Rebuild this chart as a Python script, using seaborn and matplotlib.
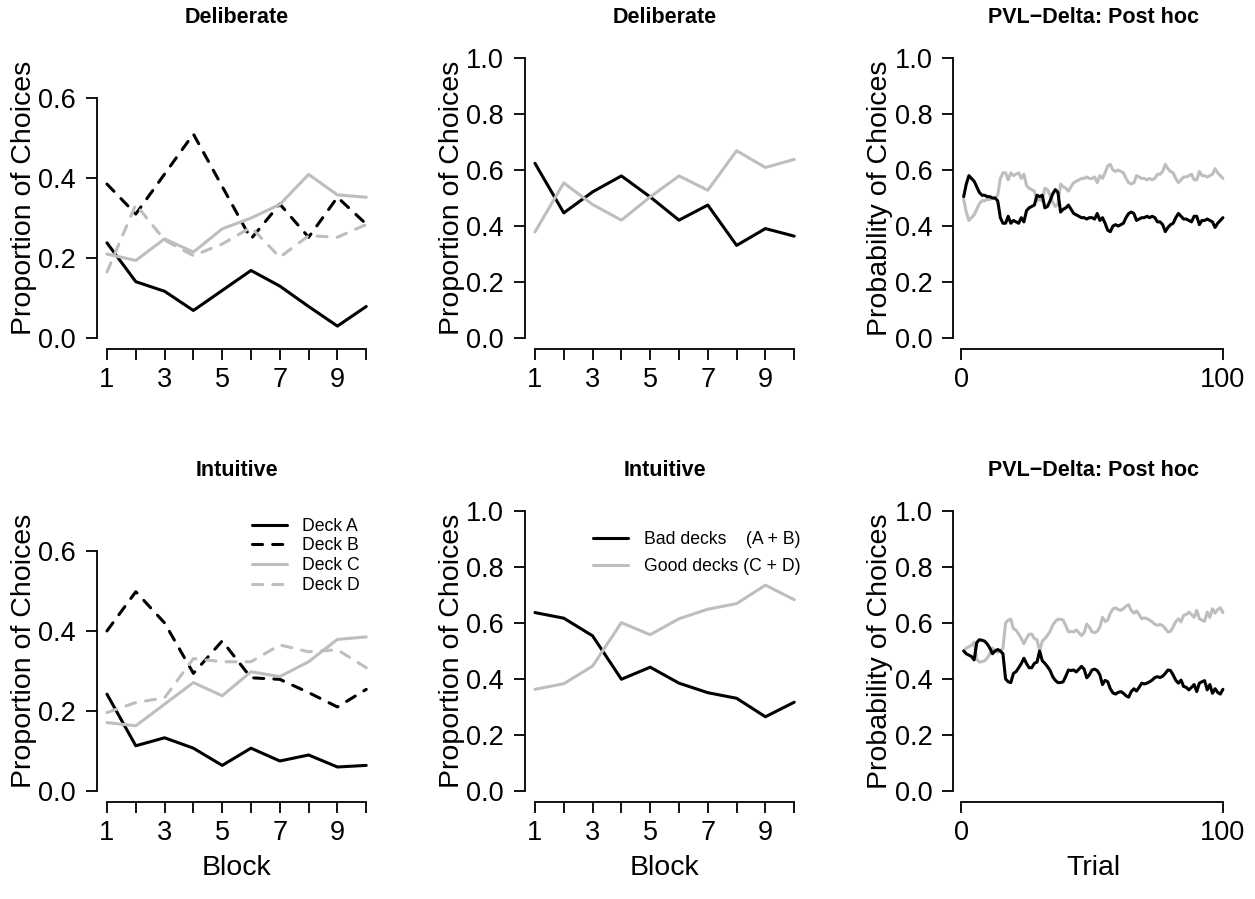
import numpy as np
import pandas as pd
import matplotlib
matplotlib.use('Agg')
import matplotlib.pyplot as plt
import seaborn as sns

# ---------------- datos ----------------
blocks = list(range(1, 11))
trials = list(range(1, 101))

# Deliberate, por mazo
deck_a_delib = [0.238, 0.141, 0.117, 0.069, 0.119, 0.169, 0.130, 0.079, 0.030, 0.079]
deck_b_delib = [0.385, 0.310, 0.410, 0.510, 0.379, 0.248, 0.335, 0.252, 0.352, 0.285]
deck_c_delib = [0.210, 0.194, 0.248, 0.215, 0.273, 0.300, 0.334, 0.409, 0.358, 0.352]
deck_d_delib = [0.165, 0.334, 0.245, 0.206, 0.235, 0.277, 0.202, 0.256, 0.252, 0.284]

# Intuitive, por mazo
deck_a_int = [0.242, 0.113, 0.133, 0.107, 0.064, 0.107, 0.075, 0.090, 0.060, 0.064]
deck_b_int = [0.400, 0.498, 0.420, 0.294, 0.375, 0.283, 0.279, 0.246, 0.210, 0.254]
deck_c_int = [0.171, 0.163, 0.217, 0.271, 0.238, 0.298, 0.286, 0.323, 0.379, 0.385]
deck_d_int = [0.196, 0.221, 0.233, 0.331, 0.323, 0.323, 0.365, 0.348, 0.353, 0.308]

# mazos malos / buenos
bad_delib  = [0.624, 0.447, 0.522, 0.579, 0.504, 0.421, 0.475, 0.331, 0.391, 0.364]
good_delib = [0.379, 0.554, 0.477, 0.421, 0.504, 0.579, 0.528, 0.669, 0.609, 0.638]
bad_int    = [0.637, 0.617, 0.554, 0.399, 0.442, 0.385, 0.351, 0.331, 0.265, 0.317]
good_int   = [0.363, 0.383, 0.446, 0.601, 0.558, 0.615, 0.649, 0.669, 0.735, 0.683]

# PVL-Delta post hoc (Deliberate)
pvl_bad_delib = [0.505, 0.55, 0.58, 0.57, 0.56, 0.54, 0.52, 0.51, 0.51, 0.505,
                 0.505, 0.50, 0.50, 0.49, 0.43, 0.41, 0.41, 0.435, 0.41, 0.42,
                 0.415, 0.41, 0.43, 0.415, 0.455, 0.465, 0.47, 0.475, 0.51, 0.505,
                 0.51, 0.465, 0.47, 0.49, 0.515, 0.53, 0.52, 0.45, 0.46, 0.465,
                 0.475, 0.46, 0.445, 0.44, 0.435, 0.43, 0.43, 0.425, 0.43, 0.43,
                 0.425, 0.445, 0.42, 0.43, 0.41, 0.385, 0.38, 0.40, 0.405, 0.40,
                 0.405, 0.41, 0.43, 0.445, 0.45, 0.445, 0.42, 0.425, 0.43, 0.43,
                 0.435, 0.43, 0.435, 0.43, 0.415, 0.415, 0.405, 0.38, 0.395, 0.405,
                 0.41, 0.43, 0.445, 0.435, 0.425, 0.425, 0.42, 0.415, 0.435, 0.435,
                 0.405, 0.42, 0.42, 0.425, 0.42, 0.415, 0.395, 0.41, 0.42, 0.43]
pvl_good_delib = [0.495, 0.45, 0.42, 0.43, 0.44, 0.46, 0.48, 0.49, 0.49, 0.495,
                  0.495, 0.50, 0.50, 0.51, 0.57, 0.59, 0.59, 0.565, 0.59, 0.58,
                  0.585, 0.59, 0.57, 0.585, 0.545, 0.535, 0.53, 0.525, 0.49, 0.495,
                  0.49, 0.535, 0.53, 0.51, 0.485, 0.47, 0.48, 0.55, 0.54, 0.535,
                  0.525, 0.54, 0.555, 0.56, 0.565, 0.57, 0.57, 0.575, 0.57, 0.57,
                  0.575, 0.555, 0.58, 0.57, 0.59, 0.615, 0.62, 0.60, 0.595, 0.60,
                  0.595, 0.59, 0.57, 0.555, 0.55, 0.555, 0.58, 0.575, 0.57, 0.57,
                  0.565, 0.57, 0.565, 0.57, 0.585, 0.585, 0.595, 0.62, 0.605, 0.595,
                  0.59, 0.57, 0.555, 0.565, 0.575, 0.575, 0.58, 0.585, 0.565, 0.565,
                  0.595, 0.58, 0.58, 0.575, 0.58, 0.585, 0.605, 0.59, 0.58, 0.57]

# PVL-Delta post hoc (Intuitive)
pvl_bad_int = [0.50, 0.49, 0.485, 0.48, 0.468, 0.53, 0.54, 0.538, 0.535, 0.525,
               0.51, 0.49, 0.50, 0.505, 0.50, 0.49, 0.40, 0.39, 0.387, 0.42,
               0.426, 0.44, 0.455, 0.474, 0.455, 0.44, 0.44, 0.456, 0.46, 0.50,
               0.465, 0.456, 0.444, 0.43, 0.408, 0.395, 0.387, 0.387, 0.39, 0.41,
               0.432, 0.43, 0.432, 0.425, 0.435, 0.445, 0.435, 0.404, 0.415, 0.432,
               0.435, 0.43, 0.415, 0.38, 0.395, 0.39, 0.365, 0.35, 0.346, 0.352,
               0.355, 0.349, 0.34, 0.335, 0.355, 0.365, 0.357, 0.37, 0.385, 0.382,
               0.385, 0.39, 0.396, 0.405, 0.408, 0.405, 0.41, 0.42, 0.432, 0.43,
               0.414, 0.395, 0.385, 0.396, 0.373, 0.37, 0.361, 0.37, 0.38, 0.355,
               0.385, 0.39, 0.394, 0.361, 0.38, 0.349, 0.365, 0.352, 0.346, 0.363]
pvl_good_int = [0.50, 0.51, 0.515, 0.52, 0.532, 0.47, 0.46, 0.462, 0.465, 0.475,
                0.49, 0.51, 0.50, 0.495, 0.50, 0.51, 0.60, 0.61, 0.613, 0.58,
                0.574, 0.56, 0.545, 0.526, 0.545, 0.56, 0.56, 0.544, 0.54, 0.50,
                0.535, 0.544, 0.556, 0.57, 0.592, 0.605, 0.613, 0.613, 0.61, 0.59,
                0.568, 0.57, 0.568, 0.575, 0.565, 0.555, 0.565, 0.596, 0.585, 0.568,
                0.565, 0.57, 0.585, 0.62, 0.605, 0.61, 0.635, 0.65, 0.654, 0.648,
                0.645, 0.651, 0.66, 0.665, 0.645, 0.635, 0.643, 0.63, 0.615, 0.618,
                0.615, 0.61, 0.604, 0.595, 0.592, 0.595, 0.59, 0.58, 0.568, 0.57,
                0.586, 0.605, 0.615, 0.604, 0.627, 0.63, 0.639, 0.63, 0.62, 0.645,
                0.615, 0.61, 0.606, 0.639, 0.62, 0.651, 0.635, 0.648, 0.654, 0.637]

# ---------------- estilo ----------------
sns.set_theme(style='white')
plt.rcParams['font.family'] = ['Liberation Sans', 'DejaVu Sans']
plt.rcParams['axes.linewidth'] = 1.3
plt.rcParams['text.color'] = 'black'
plt.rcParams['axes.labelcolor'] = 'black'
plt.rcParams['axes.titlecolor'] = 'black'
plt.rcParams['xtick.color'] = 'black'
plt.rcParams['ytick.color'] = 'black'
plt.rcParams['legend.labelcolor'] = 'black'

NEGRO = 'black'
GRIS  = '#bebebe'
LW    = 2.2
DASH  = (3.3, 3.3)
TICK_FS  = 19.5
LABEL_FS = 20.5
TITLE_FS = 15.5

fig = plt.figure(figsize=(12.55, 8.99), dpi=100)
W, H = 1255.0, 899.0
lefts   = [96.6, 524.6, 953.3]
bottoms = [349.3, 802.2]
aw, ah  = 280.0, 302.5
axes = [[fig.add_axes([l / W, 1 - b / H, aw / W, ah / H]) for l in lefts] for b in bottoms]


def linea(ax, x, y, color, dashed=False):
    sns.lineplot(x=x, y=y, ax=ax, color=color, lw=LW)
    ln = ax.lines[-1]
    ln.set_solid_capstyle('round')
    ln.set_solid_joinstyle('round')
    if dashed:
        ln.set_dashes(DASH)
        ln.set_dash_capstyle('round')
    return ln


def estilo(ax, kind, title, ylabel, xlabel=None):
    for s in ['top', 'right']:
        ax.spines[s].set_visible(False)
    for s in ['left', 'bottom']:
        ax.spines[s].set_color('black')
    if kind == 'deck':
        ax.set_ylim(-0.028, 0.728)
        ax.set_yticks([0, 0.2, 0.4, 0.6])
        ax.spines['left'].set_bounds(0, 0.6)
    else:
        ax.set_ylim(-0.04, 1.04)
        ax.set_yticks([0, 0.2, 0.4, 0.6, 0.8, 1.0])
        ax.spines['left'].set_bounds(0, 1.0)
    if kind == 'trial':
        ax.set_xlim(1 - 3.96, 100 + 3.96)
        ax.set_xticks([0, 100])
        ax.set_xticklabels(['0', '100'])
        ax.spines['bottom'].set_bounds(0, 100)
    else:
        ax.set_xlim(1 - 0.36, 10 + 0.36)
        ax.set_xticks(blocks)
        ax.set_xticklabels([str(b) if b % 2 == 1 else '' for b in blocks])
        ax.spines['bottom'].set_bounds(1, 10)
    ax.set_yticklabels(['%.1f' % v for v in ax.get_yticks()])
    ax.tick_params(axis='both', direction='out', length=8, width=1.3,
                   colors='black', labelsize=TICK_FS, left=True, bottom=True)
    ax.tick_params(axis='x', pad=5)
    ax.tick_params(axis='y', pad=7)
    ax.set_title(title, fontsize=TITLE_FS, fontweight='bold', pad=17, color='black')
    ax.set_ylabel(ylabel, fontsize=LABEL_FS, labelpad=1, color='black')
    if xlabel:
        ax.set_xlabel(xlabel, fontsize=LABEL_FS, labelpad=6, color='black')
    ax.grid(False)


# ---------------- fila superior: Deliberate ----------------
ax = axes[0][0]
linea(ax, blocks, deck_a_delib, NEGRO)
linea(ax, blocks, deck_b_delib, NEGRO, dashed=True)
linea(ax, blocks, deck_c_delib, GRIS)
linea(ax, blocks, deck_d_delib, GRIS, dashed=True)
estilo(ax, 'deck', 'Deliberate', 'Proportion of Choices')

ax = axes[0][1]
linea(ax, blocks, bad_delib, NEGRO)
linea(ax, blocks, good_delib, GRIS)
estilo(ax, 'block', 'Deliberate', 'Proportion of Choices')

ax = axes[0][2]
linea(ax, trials, pvl_good_delib, GRIS)
linea(ax, trials, pvl_bad_delib, NEGRO)
estilo(ax, 'trial', 'PVL\u2212Delta: Post hoc', 'Probability of Choices')

# ---------------- fila inferior: Intuitive ----------------
ax = axes[1][0]
la = linea(ax, blocks, deck_a_int, NEGRO)
lb = linea(ax, blocks, deck_b_int, NEGRO, dashed=True)
lc = linea(ax, blocks, deck_c_int, GRIS)
ld = linea(ax, blocks, deck_d_int, GRIS, dashed=True)
estilo(ax, 'deck', 'Intuitive', 'Proportion of Choices', 'Block')
ax.legend([la, lb, lc, ld], ['Deck A', 'Deck B', 'Deck C', 'Deck D'],
          loc='upper left', bbox_to_anchor=(0.555, 0.94), frameon=False,
          fontsize=12.7, handlelength=2.0, handletextpad=0.85,
          labelspacing=0.15, borderpad=0, borderaxespad=0)

ax = axes[1][1]
l1 = linea(ax, blocks, bad_int, NEGRO)
l2 = linea(ax, blocks, good_int, GRIS)
estilo(ax, 'block', 'Intuitive', 'Proportion of Choices', 'Block')
ax.legend([l1, l2], ['Bad decks    (A + B)', 'Good decks (C + D)'],
          loc='upper left', bbox_to_anchor=(0.244, 0.895), frameon=False,
          fontsize=12.7, handlelength=2.0, handletextpad=0.9,
          labelspacing=0.55, borderpad=0, borderaxespad=0)

ax = axes[1][2]
linea(ax, trials, pvl_good_int, GRIS)
linea(ax, trials, pvl_bad_int, NEGRO)
estilo(ax, 'trial', 'PVL\u2212Delta: Post hoc', 'Probability of Choices', 'Trial')

fig.savefig('out.png', dpi=100)
